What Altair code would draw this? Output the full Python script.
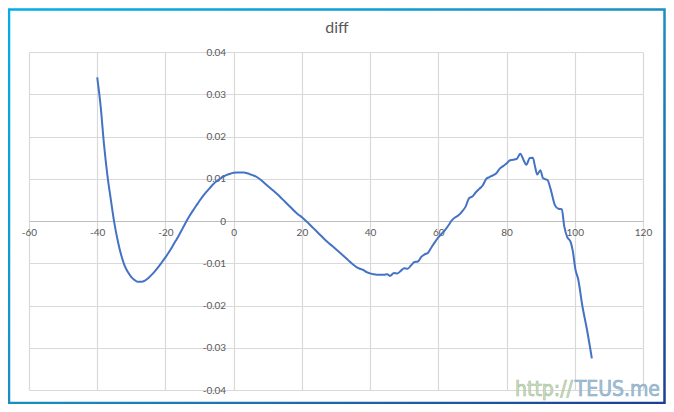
import pandas as pd
import altair as alt

# curve (x, diff)
x_vals = [-40, -39, -38, -37, -36, -35, -34, -33, -32, -31, -30, -29, -28, -27, -26,
          -25, -24, -23, -22, -21, -20, -19, -18, -17, -16, -15, -14, -13, -12, -11,
          -10, -9, -8, -7, -6, -5, -4, -3, -2, -1, 0, 1, 2, 3, 4, 5, 6, 7, 8, 9,
          10, 11, 12, 13, 14, 15, 16, 17, 18, 19, 20, 21, 22, 23, 24, 25, 26, 27, 28, 29,
          30, 31, 32, 33, 34, 35, 36, 37, 38, 39, 40, 41, 42, 43, 44, 45, 45.8, 47, 48, 49,
          50, 51, 52, 53, 54, 55, 56, 57, 58, 59, 60, 61, 62, 63, 64, 65, 66, 67, 68, 69,
          70, 71, 72, 73, 74, 75, 76, 77, 78, 79, 80, 81, 82, 83, 84, 85, 85.8, 86.8, 87.7, 88.3,
          89, 89.9, 90.7, 92, 92.9, 94.2, 95.2, 96.2, 96.9, 97.8, 98.8, 99.4, 100.2, 101, 102.2, 103.6,
          105]
diff_vals = [0.0340, 0.0272, 0.0180, 0.0107, 0.0050, -0.0004, -0.0046, -0.0080, -0.0105, -0.0121,
             -0.0133, -0.0140, -0.0144, -0.0144, -0.0141, -0.0135, -0.0127, -0.0118, -0.0108, -0.0097,
             -0.0086, -0.0074, -0.0061, -0.0047, -0.0033, -0.0018, -0.0003, 0.0011, 0.0024, 0.0036,
             0.0048, 0.0059, 0.0069, 0.0078, 0.0087, 0.0094, 0.0100, 0.0105, 0.0109, 0.0112,
             0.0114, 0.0115, 0.0115, 0.0115, 0.0113, 0.0110, 0.0107, 0.0103, 0.0097, 0.0090,
             0.0083, 0.0076, 0.0069, 0.0062, 0.0054, 0.0046, 0.0038, 0.0030, 0.0022, 0.0015,
             0.0009, 0.0002, -0.0006, -0.0014, -0.0022, -0.0030, -0.0038, -0.0046, -0.0053, -0.0060,
             -0.0067, -0.0074, -0.0081, -0.0088, -0.0096, -0.0103, -0.0109, -0.0113, -0.0116, -0.0121,
             -0.0124, -0.0126, -0.0127, -0.0127, -0.0127, -0.0126, -0.0130, -0.0123, -0.0124, -0.0118,
             -0.0112, -0.0113, -0.0105, -0.0097, -0.0096, -0.0085, -0.0079, -0.0075, -0.0062, -0.0050,
             -0.0039, -0.0030, -0.0021, -0.0010, 0.0002, 0.0009, 0.0014, 0.0023, 0.0034, 0.0054,
             0.0058, 0.0068, 0.0076, 0.0084, 0.0099, 0.0104, 0.0108, 0.0113, 0.0124, 0.0130,
             0.0136, 0.0144, 0.0145, 0.0147, 0.0159, 0.0144, 0.0133, 0.0149, 0.0150, 0.0131,
             0.0110, 0.0120, 0.0101, 0.0097, 0.0076, 0.0037, 0.0029, 0.0028, -0.0012, -0.0038,
             -0.0050, -0.0070, -0.0115, -0.0138, -0.0200, -0.0258, -0.0325]

x_ticks = [-60, -40, -20, 0, 20, 40, 60, 80, 100, 120]
y_ticks = [-0.04, -0.03, -0.02, -0.01, 0, 0.01, 0.02, 0.03, 0.04]

chart_title = ["diff"]
mark_left = ["http://"]
mark_right = ["TEUS.me"]

df = pd.DataFrame({"x": x_vals, "diff": diff_vals})

W, H = 614, 338
FONT = "Lato"
grey = "#595959"

line = alt.Chart(df).mark_line(color="#4472C4", strokeWidth=2, interpolate="monotone").encode(
    x=alt.X("x:Q",
            scale=alt.Scale(domain=[-60, 120], nice=False, zero=False),
            axis=alt.Axis(values=x_ticks, title=None, offset=-H / 2, ticks=False,
                          labelPadding=6, labelFlush=False, labelOverlap=False,
                          labelExpr="'' + datum.value",
                          domainColor="#bfbfbf", domainWidth=1.2)),
    y=alt.Y("diff:Q",
            scale=alt.Scale(domain=[-0.04, 0.04], nice=False),
            axis=alt.Axis(values=y_ticks, title=None, offset=-W / 3, ticks=False,
                          labelPadding=8, labelOverlap=False, domain=False,
                          labelExpr="'' + datum.value"))
)

title = alt.Chart(pd.DataFrame({"t": chart_title})).mark_text(
    font=FONT, fontSize=16, color=grey, align="center", baseline="middle"
).encode(x=alt.value(W / 2 + 1), y=alt.value(-24), text="t:N")

frame = alt.Chart(pd.DataFrame({"t": chart_title})).mark_rect(
    fill="transparent", strokeWidth=2.5,
    stroke=alt.LinearGradient(
        gradient="linear", x1=0, y1=0, x2=1, y2=1,
        stops=[alt.GradientStop(color="#00aee8", offset=0),
               alt.GradientStop(color="#1a8fc0", offset=0.5),
               alt.GradientStop(color="#1d3f91", offset=1)])
).encode(x=alt.value(-20), x2=alt.value(635.5), y=alt.value(-42.5), y2=alt.value(351))

# watermark in the lower right corner
wm_left = alt.Chart(pd.DataFrame({"t": mark_left})).mark_text(
    font="DejaVu Sans Condensed", fontSize=21, color="#c9e3b8",
    stroke="#a9bca3", strokeWidth=0.6, align="left", baseline="alphabetic"
).encode(x=alt.value(486), y=alt.value(344), text="t:N")

wm_right = alt.Chart(pd.DataFrame({"t": mark_right})).mark_text(
    font="DejaVu Sans Condensed", fontSize=21, color="#9cc3dd",
    stroke="#8ea9bf", strokeWidth=0.6, align="right", baseline="alphabetic"
).encode(x=alt.value(631), y=alt.value(344), text="t:N")

chart = alt.layer(line, title, frame, wm_left, wm_right).properties(
    width=W, height=H,
    autosize=alt.AutoSizeParams(type="none"),
    padding={"left": 21, "top": 44, "right": 23, "bottom": 14}
).configure_view(
    strokeWidth=0
).configure_axis(
    labelFont=FONT, labelFontSize=10, labelColor=grey,
    gridColor="#d9d9d9", gridWidth=1.2
)

chart.save("out.html", embed_options={"renderer": "svg", "actions": False})
